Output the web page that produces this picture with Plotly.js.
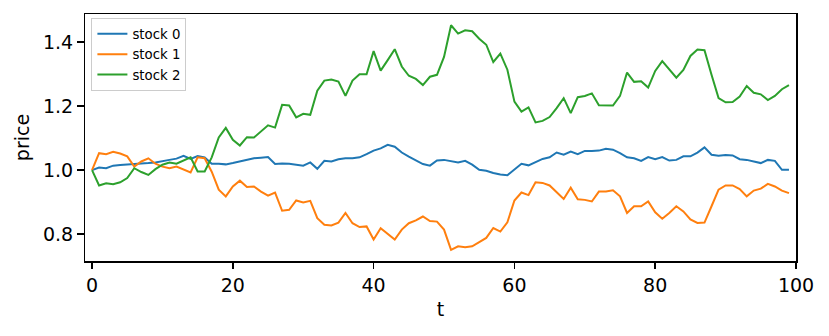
<!DOCTYPE html>
<html>
<head>
<meta charset="utf-8">
<script src="https://cdn.plot.ly/plotly-3.0.1.min.js"></script>
<style>html,body{margin:0;padding:0;background:#fff;}#chart{width:829px;height:336px;}</style>
</head>
<body>
<div id="chart"></div>
<script>
const seriesNames = ["stock 0", "stock 1", "stock 2"];
const seriesColors = ["#1f77b4", "#ff7f0e", "#2ca02c"];

const stock0 = [1.000,1.008,1.006,1.014,1.016,1.017,1.018,1.019,1.022,1.024,
1.027,1.032,1.036,1.045,1.035,1.044,1.040,1.020,1.020,1.018,
1.022,1.027,1.030,1.037,1.039,1.041,1.019,1.021,1.020,1.016,
1.014,1.024,1.004,1.029,1.027,1.034,1.037,1.037,1.040,1.050,
1.061,1.068,1.079,1.073,1.055,1.042,1.030,1.019,1.014,1.030,
1.032,1.027,1.024,1.029,1.017,1.001,0.998,0.991,0.986,0.984,
1.001,1.020,1.015,1.024,1.035,1.040,1.055,1.048,1.058,1.050,
1.060,1.060,1.061,1.067,1.064,1.053,1.040,1.037,1.029,1.041,
1.034,1.041,1.030,1.032,1.043,1.043,1.055,1.071,1.048,1.045,
1.047,1.046,1.034,1.032,1.027,1.022,1.032,1.029,1.001,1.001];

const stock1 = [1.000,1.053,1.050,1.057,1.052,1.043,1.011,1.027,1.037,1.020,
1.011,1.006,1.011,1.003,0.993,1.040,1.037,0.995,0.939,0.918,
0.949,0.967,0.947,0.949,0.933,0.920,0.930,0.873,0.876,0.905,
0.899,0.904,0.850,0.829,0.827,0.836,0.866,0.834,0.822,0.824,
0.783,0.818,0.800,0.783,0.814,0.834,0.843,0.855,0.841,0.839,
0.814,0.751,0.762,0.759,0.762,0.774,0.788,0.819,0.808,0.837,
0.905,0.930,0.922,0.962,0.960,0.952,0.930,0.910,0.945,0.909,
0.907,0.902,0.933,0.933,0.937,0.918,0.866,0.887,0.887,0.902,
0.868,0.848,0.866,0.887,0.871,0.846,0.835,0.836,0.887,0.939,
0.952,0.952,0.941,0.918,0.936,0.942,0.957,0.949,0.936,0.928];

const stock2 = [1.000,0.952,0.959,0.956,0.962,0.975,1.006,0.994,0.985,1.003,
1.017,1.024,1.020,1.029,1.040,0.996,0.996,1.040,1.102,1.132,
1.095,1.077,1.103,1.102,1.120,1.140,1.133,1.204,1.202,1.165,
1.176,1.173,1.248,1.280,1.283,1.277,1.232,1.280,1.300,1.300,
1.372,1.311,1.344,1.378,1.324,1.295,1.285,1.266,1.292,1.298,
1.354,1.453,1.427,1.437,1.434,1.411,1.392,1.338,1.364,1.314,
1.214,1.183,1.196,1.149,1.154,1.166,1.194,1.225,1.178,1.228,
1.232,1.240,1.203,1.203,1.202,1.232,1.305,1.276,1.278,1.258,
1.310,1.341,1.315,1.289,1.313,1.357,1.377,1.375,1.298,1.225,
1.212,1.213,1.230,1.263,1.242,1.237,1.219,1.232,1.253,1.266];

const allSeries = [stock0, stock1, stock2];
const t = stock0.map((_, i) => i);

const traces = allSeries.map((vals, k) => ({
  x: t, y: vals, type: "scatter", mode: "lines", name: seriesNames[k],
  line: {color: seriesColors[k], width: 2}
}));

const flat = allSeries.flat();
const lo = Math.min(...flat), hi = Math.max(...flat);
const pad = 0.05 * (hi - lo);

const font = {family: "DejaVu Sans", size: 19, color: "#000"};
const axisCommon = {
  showline: true, mirror: true, linecolor: "#000", linewidth: 1.5,
  ticks: "outside", ticklen: 6.5, tickwidth: 1.5, tickcolor: "#000",
  showgrid: false, zeroline: false, tickfont: font
};

const layout = {
  width: 829, height: 336,
  margin: {l: 85, r: 33, t: 14, b: 75},
  paper_bgcolor: "#fff", plot_bgcolor: "#fff",
  font: font,
  showlegend: true,
  legend: {
    x: 0.009, y: 0.985, xanchor: "left", yanchor: "top",
    bgcolor: "rgba(255,255,255,0.8)", bordercolor: "#cccccc", borderwidth: 1,
    font: {family: "DejaVu Sans", size: 13.3, color: "#000"}
  },
  xaxis: Object.assign({}, axisCommon, {
    range: [-1, 100], tickvals: [0, 20, 40, 60, 80, 100],
    title: {text: "t", font: font, standoff: 8}
  }),
  yaxis: Object.assign({}, axisCommon, {
    range: [lo - pad, hi + pad], tickvals: [0.8, 1.0, 1.2, 1.4],
    ticktext: ["0.8", "1.0", "1.2", "1.4"],
    title: {text: "price", font: font, standoff: 8}
  })
};

Plotly.newPlot("chart", traces, layout, {displayModeBar: false, staticPlot: true});
</script>
</body>
</html>
